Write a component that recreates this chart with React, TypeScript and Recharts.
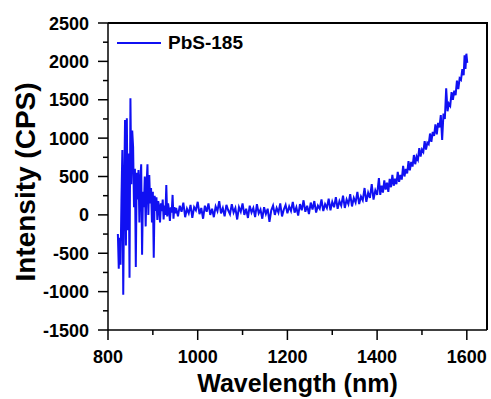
import { LineChart, Line, XAxis, YAxis } from 'recharts';

// [wavelength nm, intensity CPS]
const spectrumEdge: [number, number][] = [
  [822, -250], [824, -700], [826, -300], [828, -650], [830, 200], [832, 845],
  [834, -1040], [836, 300], [838, 1235], [840, -400], [842, 1260], [844, -200],
  [846, 800], [848, -820], [850, 1520], [852, 400], [854, 1100], [856, 885],
  [858, 100], [860, 600], [862, -680], [864, 550], [866, 200], [868, 585],
  [870, -100], [872, 450], [874, 660], [876, -520], [878, 300], [880, 100],
  [882, 500], [884, -150], [886, 400], [888, 660], [890, 0], [892, 520],
  [894, 150], [896, 350], [898, -100], [900, 300], [902, -560], [904, 250],
  [906, 50], [908, 230], [910, -65], [912, 180], [914, 100], [916, -100],
  [918, 150], [920, 50], [922, 200], [924, -60], [926, 120], [928, 0],
  [930, 390], [932, -20], [934, 150], [936, 60], [938, -80], [940, 100],
  [942, 30], [944, 260], [946, -50], [948, 100], [950, 20],
];

const spectrumFlat: [number, number][] = [
  [952, 90], [956, -20], [960, 120], [964, 40], [968, 160], [972, -30],
  [976, 80], [980, 20], [984, 130], [988, -40], [992, 100], [996, 60],
  [1000, 170], [1004, 10], [1008, 90], [1012, -50], [1016, 120], [1020, 40],
  [1024, 150], [1028, 0], [1032, 80], [1036, -30], [1040, 110], [1044, 50],
  [1048, 180], [1052, 20], [1056, 90], [1060, -20], [1064, 130], [1068, 60],
  [1072, 10], [1076, 140], [1080, 30], [1084, 90], [1088, -60], [1092, 100],
  [1096, 40], [1100, 150], [1104, 0], [1108, 80], [1112, -40], [1116, 120],
  [1120, 30], [1124, 90], [1128, -30], [1132, 140], [1136, 20], [1140, 70],
  [1144, -50], [1148, 100], [1152, 10], [1156, 80], [1160, -90], [1164, 60],
  [1168, 120], [1172, 0], [1176, 90], [1180, 30], [1184, 150], [1188, -20],
  [1192, 70], [1196, 130], [1200, 20], [1204, 110], [1208, 50], [1212, 170],
  [1216, 30], [1220, 100], [1224, -10], [1228, 140], [1232, 60], [1236, 190],
  [1240, 40], [1244, 120], [1248, 10], [1252, 160], [1256, 70], [1260, 180],
  [1264, 30], [1268, 120], [1272, 80], [1276, 200], [1280, 50], [1284, 140],
  [1288, 90], [1292, 210], [1296, 60], [1300, 170], [1304, 100], [1308, 230],
  [1312, 80], [1316, 180], [1320, 120], [1324, 250], [1328, 90], [1332, 200],
  [1336, 140], [1340, 270], [1344, 110], [1348, 220], [1352, 160], [1356, 300],
  [1360, 140], [1364, 240], [1368, 190], [1372, 350], [1376, 170], [1380, 290],
  [1384, 220], [1388, 400], [1392, 200], [1396, 320], [1400, 260],
];

const spectrumRise: [number, number][] = [
  [1404, 480], [1407, 260], [1410, 380], [1413, 290], [1416, 450], [1419, 330],
  [1422, 420], [1425, 300], [1428, 470], [1431, 360], [1434, 520], [1437, 380],
  [1440, 470], [1443, 400], [1446, 560], [1449, 430], [1452, 520], [1455, 460],
  [1458, 640], [1461, 500], [1464, 600], [1467, 540], [1470, 700], [1473, 580],
  [1476, 690], [1479, 630], [1482, 780], [1485, 660], [1488, 760], [1491, 720],
  [1494, 870], [1497, 760], [1500, 850], [1503, 820], [1506, 960], [1509, 850],
  [1512, 940], [1515, 920], [1518, 1060], [1521, 950], [1524, 1080], [1527, 1030],
  [1530, 1180], [1533, 1050], [1536, 1200], [1539, 1140], [1542, 1300], [1545, 975],
  [1548, 1320], [1551, 1250], [1554, 1650], [1557, 1350], [1560, 1450], [1563, 1420],
  [1566, 1600], [1569, 1500], [1572, 1620], [1575, 1560], [1578, 1750], [1581, 1640],
  [1584, 1780], [1587, 1760], [1590, 1900], [1593, 1820], [1595, 2080], [1597, 1900],
  [1599, 2100], [1601, 1980],
];

const xTicks = [800, 900, 1000, 1100, 1200, 1300, 1400, 1500, 1600];
const yTicks = [-1500, -1250, -1000, -750, -500, -250, 0, 250, 500, 750, 1000, 1250, 1500, 1750, 2000, 2250, 2500];
const xDomain = [800, 1645];
const yDomain = [-1500, 2500];

const data = [...spectrumEdge, ...spectrumFlat, ...spectrumRise].map(([wl, cps]) => ({ wl, cps }));

const FONT = '"Liberation Sans", Arial, sans-serif';
const BLUE = '#1010f2';

const XTick = (props: any) => {
  const { x, y, payload } = props;
  const major = payload.value % 200 === 0;
  return (
    <g>
      <line x1={x} y1={y} x2={x} y2={y + (major ? 10 : 5)} stroke="#000" strokeWidth={1.5} />
      {major && (
        <text x={x} y={y + 33} textAnchor="middle" fontFamily={FONT} fontWeight="bold" fontSize={18} fill="#000">
          {payload.value}
        </text>
      )}
    </g>
  );
};

const YTick = (props: any) => {
  const { x, y, payload } = props;
  const major = payload.value % 500 === 0;
  return (
    <g>
      <line x1={x} y1={y} x2={x - (major ? 10 : 5)} y2={y} stroke="#000" strokeWidth={1.5} />
      {major && (
        <text x={x - 19} y={y + 6.5} textAnchor="end" fontFamily={FONT} fontWeight="bold" fontSize={18} fill="#000">
          {payload.value}
        </text>
      )}
    </g>
  );
};

export default function App() {
  return (
    <div style={{ position: 'absolute', left: 0, top: 0, width: 491, height: 399, background: '#fff' }}>
      <LineChart width={491} height={399} data={data} margin={{ top: 23, right: 4, bottom: 0, left: 0 }}>
        <XAxis
          dataKey="wl"
          type="number"
          domain={xDomain}
          ticks={xTicks}
          interval={0}
          height={69}
          tickSize={0}
          tickMargin={0}
          tickLine={false}
          tick={<XTick />}
          axisLine={{ stroke: '#000', strokeWidth: 1.5 }}
          allowDataOverflow
          label={{
            content: ({ viewBox }: any) => (
              <text
                x={viewBox.x + viewBox.width / 2}
                y={392}
                textAnchor="middle"
                fontFamily={FONT}
                fontWeight="bold"
                fontSize={25}
                fill="#000"
              >
                Wavelength (nm)
              </text>
            ),
          }}
        />
        <YAxis
          dataKey="cps"
          type="number"
          domain={yDomain}
          ticks={yTicks}
          interval={0}
          width={108}
          tickSize={0}
          tickMargin={0}
          tickLine={false}
          tick={<YTick />}
          axisLine={{ stroke: '#000', strokeWidth: 1.5 }}
          allowDataOverflow
          label={{
            content: () => (
              <text
                x={35}
                y={182}
                transform="rotate(-90, 35, 182)"
                textAnchor="middle"
                fontFamily={FONT}
                fontWeight="bold"
                fontSize={28}
                fill="#000"
              >
                Intensity (CPS)
              </text>
            ),
          }}
        />
        <Line type="linear" dataKey="cps" stroke={BLUE} strokeWidth={2} dot={false} isAnimationActive={false} />
      </LineChart>
      {/* top and right edges of the plot box */}
      <div
        style={{
          position: 'absolute',
          left: 108,
          top: 22,
          width: 380,
          height: 308,
          boxSizing: 'border-box',
          borderTop: '2px solid #000',
          borderRight: '2px solid #000',
          pointerEvents: 'none',
        }}
      />
      <div
        style={{
          position: 'absolute',
          left: 117,
          top: 31,
          display: 'flex',
          alignItems: 'center',
          fontFamily: FONT,
          fontWeight: 'bold',
          fontSize: 19,
          lineHeight: '24px',
        }}
      >
        <svg width={44} height={4} style={{ marginRight: 7 }}>
          <line x1={0} y1={2} x2={44} y2={2} stroke={BLUE} strokeWidth={2} />
        </svg>
        <span>PbS-185</span>
      </div>
    </div>
  );
}
